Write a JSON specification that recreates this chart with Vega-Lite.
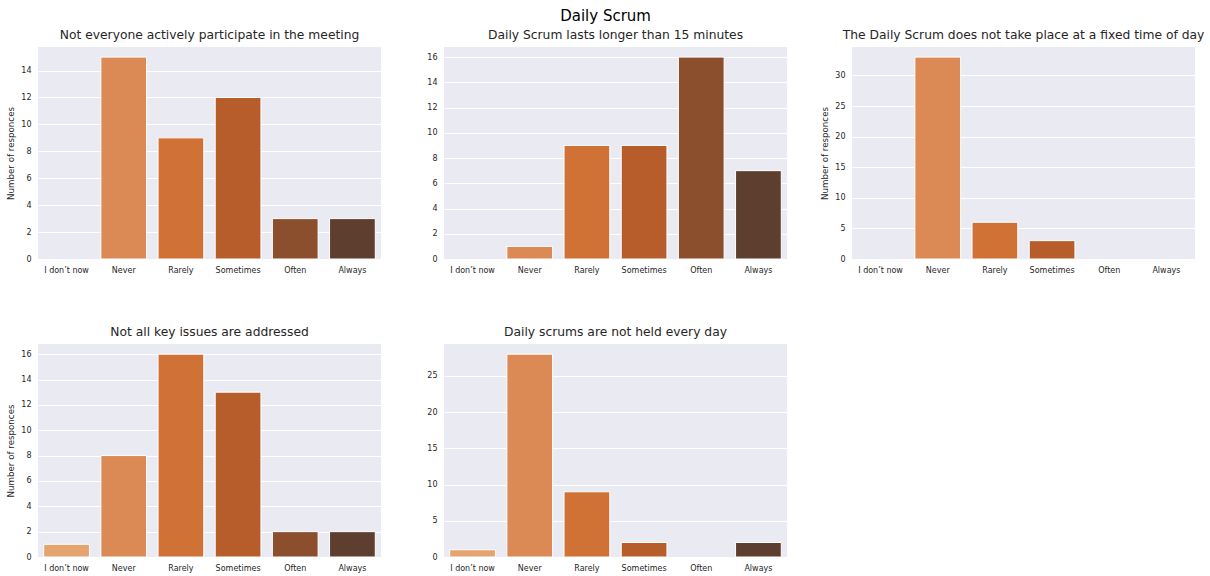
{
  "$schema": "https://vega.github.io/schema/vega-lite/v6.json",
  "padding": {"left": 6, "top": 8, "right": 5, "bottom": 2},
  "title": {"text": "Daily Scrum", "fontSize": 15, "font": "DejaVu Sans", "fontWeight": "normal", "color": "#000000", "anchor": "middle", "offset": 5},
  "datasets": {
    "responses": [
      {"panel": 1, "answer": "I don’t now", "count": 0},
      {"panel": 1, "answer": "Never", "count": 15},
      {"panel": 1, "answer": "Rarely", "count": 9},
      {"panel": 1, "answer": "Sometimes", "count": 12},
      {"panel": 1, "answer": "Often", "count": 3},
      {"panel": 1, "answer": "Always", "count": 3},
      {"panel": 2, "answer": "I don’t now", "count": 0},
      {"panel": 2, "answer": "Never", "count": 1},
      {"panel": 2, "answer": "Rarely", "count": 9},
      {"panel": 2, "answer": "Sometimes", "count": 9},
      {"panel": 2, "answer": "Often", "count": 16},
      {"panel": 2, "answer": "Always", "count": 7},
      {"panel": 3, "answer": "I don’t now", "count": 0},
      {"panel": 3, "answer": "Never", "count": 33},
      {"panel": 3, "answer": "Rarely", "count": 6},
      {"panel": 3, "answer": "Sometimes", "count": 3},
      {"panel": 3, "answer": "Often", "count": 0},
      {"panel": 3, "answer": "Always", "count": 0},
      {"panel": 4, "answer": "I don’t now", "count": 1},
      {"panel": 4, "answer": "Never", "count": 8},
      {"panel": 4, "answer": "Rarely", "count": 16},
      {"panel": 4, "answer": "Sometimes", "count": 13},
      {"panel": 4, "answer": "Often", "count": 2},
      {"panel": 4, "answer": "Always", "count": 2},
      {"panel": 5, "answer": "I don’t now", "count": 1},
      {"panel": 5, "answer": "Never", "count": 28},
      {"panel": 5, "answer": "Rarely", "count": 9},
      {"panel": 5, "answer": "Sometimes", "count": 2},
      {"panel": 5, "answer": "Often", "count": 0},
      {"panel": 5, "answer": "Always", "count": 2}
    ]
  },
  "vconcat": [
    {
      "hconcat": [
        {
          "hconcat": [
            {
              "width": 343, "height": 212,
              "title": "Not everyone actively participate in the meeting",
              "data": {"name": "responses"},
              "transform": [{"filter": "datum.panel == 1"}],
              "mark": {"type": "bar", "stroke": "white"},
              "encoding": {
                "x": {"field": "answer", "type": "nominal", "sort": ["I don’t now", "Never", "Rarely", "Sometimes", "Often", "Always"], "scale": {"paddingInner": 0.2, "paddingOuter": 0.1}, "axis": {"title": null, "labelAngle": 0}},
                "y": {"field": "count", "type": "quantitative", "scale": {"domain": [0, 15.75], "nice": false}, "axis": {"title": "Number of responces", "values": [0, 2, 4, 6, 8, 10, 12, 14]}},
                "color": {"field": "answer", "type": "nominal", "scale": {"domain": ["I don’t now", "Never", "Rarely", "Sometimes", "Often", "Always"], "range": ["#e5a36f", "#db8a56", "#d07236", "#b75c2b", "#8b4f2e", "#5e3f2f"]}, "legend": null},
                "strokeWidth": {"condition": {"test": "datum.count > 0", "value": 1}, "value": 0}
              }
            },
            {
              "width": 343, "height": 212,
              "title": "Daily Scrum lasts longer than 15 minutes",
              "data": {"name": "responses"},
              "transform": [{"filter": "datum.panel == 2"}],
              "mark": {"type": "bar", "stroke": "white"},
              "encoding": {
                "x": {"field": "answer", "type": "nominal", "sort": ["I don’t now", "Never", "Rarely", "Sometimes", "Often", "Always"], "scale": {"paddingInner": 0.2, "paddingOuter": 0.1}, "axis": {"title": null, "labelAngle": 0}},
                "y": {"field": "count", "type": "quantitative", "scale": {"domain": [0, 16.8], "nice": false}, "axis": {"title": null, "values": [0, 2, 4, 6, 8, 10, 12, 14, 16]}},
                "color": {"field": "answer", "type": "nominal", "scale": {"domain": ["I don’t now", "Never", "Rarely", "Sometimes", "Often", "Always"], "range": ["#e5a36f", "#db8a56", "#d07236", "#b75c2b", "#8b4f2e", "#5e3f2f"]}, "legend": null},
                "strokeWidth": {"condition": {"test": "datum.count > 0", "value": 1}, "value": 0}
              }
            }
          ],
          "spacing": 45
        },
        {
          "width": 343, "height": 212,
          "title": "The Daily Scrum does not take place at a fixed time of day",
          "data": {"name": "responses"},
          "transform": [{"filter": "datum.panel == 3"}],
          "mark": {"type": "bar", "stroke": "white"},
          "encoding": {
            "x": {"field": "answer", "type": "nominal", "sort": ["I don’t now", "Never", "Rarely", "Sometimes", "Often", "Always"], "scale": {"paddingInner": 0.2, "paddingOuter": 0.1}, "axis": {"title": null, "labelAngle": 0}},
            "y": {"field": "count", "type": "quantitative", "scale": {"domain": [0, 34.65], "nice": false}, "axis": {"title": "Number of responces", "values": [0, 5, 10, 15, 20, 25, 30]}},
            "color": {"field": "answer", "type": "nominal", "scale": {"domain": ["I don’t now", "Never", "Rarely", "Sometimes", "Often", "Always"], "range": ["#e5a36f", "#db8a56", "#d07236", "#b75c2b", "#8b4f2e", "#5e3f2f"]}, "legend": null},
            "strokeWidth": {"condition": {"test": "datum.count > 0", "value": 1}, "value": 0}
          }
        }
      ],
      "spacing": 33
    },
    {
      "hconcat": [
        {
          "width": 343, "height": 213,
          "title": "Not all key issues are addressed",
          "data": {"name": "responses"},
          "transform": [{"filter": "datum.panel == 4"}],
          "mark": {"type": "bar", "stroke": "white"},
          "encoding": {
            "x": {"field": "answer", "type": "nominal", "sort": ["I don’t now", "Never", "Rarely", "Sometimes", "Often", "Always"], "scale": {"paddingInner": 0.2, "paddingOuter": 0.1}, "axis": {"title": null, "labelAngle": 0}},
            "y": {"field": "count", "type": "quantitative", "scale": {"domain": [0, 16.8], "nice": false}, "axis": {"title": "Number of responces", "values": [0, 2, 4, 6, 8, 10, 12, 14, 16]}},
            "color": {"field": "answer", "type": "nominal", "scale": {"domain": ["I don’t now", "Never", "Rarely", "Sometimes", "Often", "Always"], "range": ["#e5a36f", "#db8a56", "#d07236", "#b75c2b", "#8b4f2e", "#5e3f2f"]}, "legend": null},
            "strokeWidth": {"condition": {"test": "datum.count > 0", "value": 1}, "value": 0}
          }
        },
        {
          "width": 343, "height": 213,
          "title": "Daily scrums are not held every day",
          "data": {"name": "responses"},
          "transform": [{"filter": "datum.panel == 5"}],
          "mark": {"type": "bar", "stroke": "white"},
          "encoding": {
            "x": {"field": "answer", "type": "nominal", "sort": ["I don’t now", "Never", "Rarely", "Sometimes", "Often", "Always"], "scale": {"paddingInner": 0.2, "paddingOuter": 0.1}, "axis": {"title": null, "labelAngle": 0}},
            "y": {"field": "count", "type": "quantitative", "scale": {"domain": [0, 29.4], "nice": false}, "axis": {"title": null, "values": [0, 5, 10, 15, 20, 25]}},
            "color": {"field": "answer", "type": "nominal", "scale": {"domain": ["I don’t now", "Never", "Rarely", "Sometimes", "Often", "Always"], "range": ["#e5a36f", "#db8a56", "#d07236", "#b75c2b", "#8b4f2e", "#5e3f2f"]}, "legend": null},
            "strokeWidth": {"condition": {"test": "datum.count > 0", "value": 1}, "value": 0}
          }
        }
      ],
      "spacing": 45
    }
  ],
  "spacing": 51,
  "resolve": {"scale": {"color": "shared"}},
  "config": {
    "font": "DejaVu Sans",
    "view": {"fill": "#eaeaf2", "stroke": null},
    "axis": {
      "domain": false, "ticks": false, "labelFont": "DejaVu Sans", "labelFontSize": 8, "labelColor": "#262626", "labelPadding": 7,
      "titleFont": "DejaVu Sans", "titleFontSize": 8.7, "titleFontWeight": "normal", "titleColor": "#262626", "titlePadding": 5,
      "grid": true, "gridColor": "#ffffff", "gridWidth": 1, "gridOpacity": 1
    },
    "axisX": {"grid": false, "labelPadding": 7},
    "title": {"font": "DejaVu Sans", "fontSize": 12.3, "fontWeight": "normal", "color": "#262626", "offset": 6}
  }
}
